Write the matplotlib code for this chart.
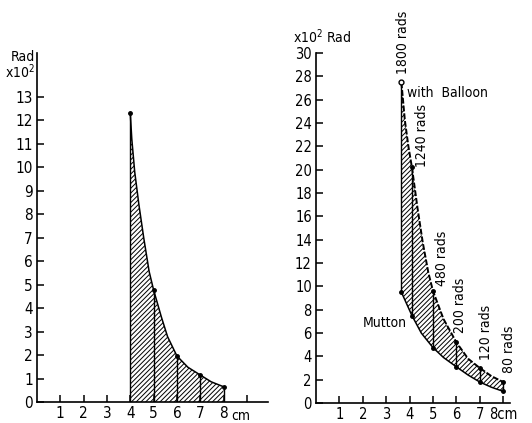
import matplotlib
matplotlib.use("Agg")
import matplotlib.pyplot as plt

plt.rcParams['font.family'] = ['DejaVu Sans']
plt.rcParams['font.stretch'] = 'condensed'
plt.rcParams['hatch.linewidth'] = 0.7

# left panel: dose curve
left_x = [4.0, 4.065, 4.19, 4.37, 4.58, 4.81, 5.0, 5.33, 5.6, 6.0, 6.47, 7.0, 7.47, 8.0]
left_y = [12.3, 11.2, 9.8, 8.4, 6.97, 5.55, 4.77, 3.63, 2.78, 1.96, 1.48, 1.15, 0.86, 0.65]
left_mark_x = [4, 5, 6, 7, 8]
left_mark_y = [12.3, 4.77, 1.96, 1.15, 0.65]

# right panel: with balloon (upper) and mutton (lower)
ball_x = [3.65, 3.8, 3.95, 4.1, 4.34, 4.56, 4.8, 5.0, 5.45, 6.0, 6.5, 7.0, 7.5, 8.0]
ball_y = [27.5, 24.2, 22.0, 20.2, 16.7, 13.8, 11.2, 9.6, 7.2, 5.2, 3.8, 3.0, 2.3, 1.8]
mutt_x = [3.65, 4.1, 4.5, 5.0, 5.45, 6.0, 6.5, 7.0, 7.5, 8.0]
mutt_y = [9.5, 7.5, 6.0, 4.75, 3.9, 3.1, 2.4, 1.8, 1.35, 1.0]
seg_x = [3.65, 4.1, 5.0, 6.0, 7.0, 8.0]
seg_top = [27.5, 20.2, 9.6, 5.2, 3.0, 1.8]
seg_bot = [9.5, 7.5, 4.75, 3.1, 1.8, 1.0]
rad_labels = ["1800 rads", "1240 rads", "480 rads", "200 rads", "120 rads", "80 rads"]
rad_x = [3.72, 4.52, 5.37, 6.15, 7.27, 8.25]
rad_y = [28.2, 20.2, 10.0, 6.0, 3.7, 2.6]

fig = plt.figure(figsize=(5.32, 4.23), dpi=100)
ax1 = fig.add_axes([0.0695, 0.0496, 0.434, 0.825])
ax2 = fig.add_axes([0.594, 0.0473, 0.365, 0.827])

for ax in (ax1, ax2):
    for s in ("top", "right"):
        ax.spines[s].set_visible(False)
    for s in ("left", "bottom"):
        ax.spines[s].set_linewidth(1.2)
    ax.tick_params(direction="in", length=5, width=1.1, labelsize=11, pad=3)
ax2.tick_params(labelsize=10.5)

# ---- left
ax1.fill(left_x + [8.0, 4.0], left_y + [0, 0], facecolor="none",
         edgecolor="black", hatch="///////", lw=0)
ax1.plot(left_x, left_y, color="black", lw=1.1)
for xv, yv in zip(left_mark_x, left_mark_y):
    ax1.plot([xv, xv], [0, yv], color="black", lw=1.0)
ax1.plot(left_mark_x, left_mark_y, "o", color="black", ms=2.5)
ax1.set_xlim(0, 9.9)
ax1.set_ylim(0, 14.85)
ax1.set_xticks(range(1, 10))
ax1.set_xticklabels([str(i) for i in range(1, 9)] + [""])
ax1.set_yticks(range(0, 14))
ax1.text(8.35, -0.3, "cm", fontsize=10, ha="left", va="top")
ax1.text(-0.1, 14.7, "Rad", fontsize=10, ha="right", va="center")
ax1.text(-0.1, 14.05, r"x10$^2$", fontsize=10, ha="right", va="center")

# ---- right
ax2.fill(ball_x + mutt_x[::-1], ball_y + mutt_y[::-1], facecolor="none",
         edgecolor="black", hatch="///////", lw=0)
ax2.plot(ball_x, ball_y, color="black", lw=1.4, ls=(0, (3, 1)))
ax2.plot(mutt_x, mutt_y, color="black", lw=1.1)
for xv, yt, yb in zip(seg_x, seg_top, seg_bot):
    ax2.plot([xv, xv], [yb, yt], color="black", lw=1.0)
ax2.plot(seg_x[1:], seg_top[1:], "o", color="black", ms=2.5)
ax2.plot(seg_x, seg_bot, "o", color="black", ms=2.5)
ax2.plot(seg_x[0], seg_top[0], "o", mfc="white", mec="black", ms=3.5)
for lab, xv, yv in zip(rad_labels, rad_x, rad_y):
    ax2.text(xv, yv, lab, rotation=90, fontsize=10, ha="center", va="bottom",
             clip_on=False)
ax2.text(3.87, 26.6, "with  Balloon", fontsize=10, ha="left", va="center")
ax2.text(3.9, 6.85, "Mutton", fontsize=10, ha="right", va="center")
ax2.set_xlim(0, 8.3)
ax2.set_ylim(0, 30)
ax2.set_xticks(range(1, 9))
ax2.set_xticklabels([str(i) for i in range(1, 8)] + ["8cm"])
ax2.set_yticks(range(0, 31, 2))
ax2.text(-1.0, 31.4, r"x10$^2$ Rad", fontsize=10, ha="left", va="center")

fig.savefig("out.png", dpi=100)
